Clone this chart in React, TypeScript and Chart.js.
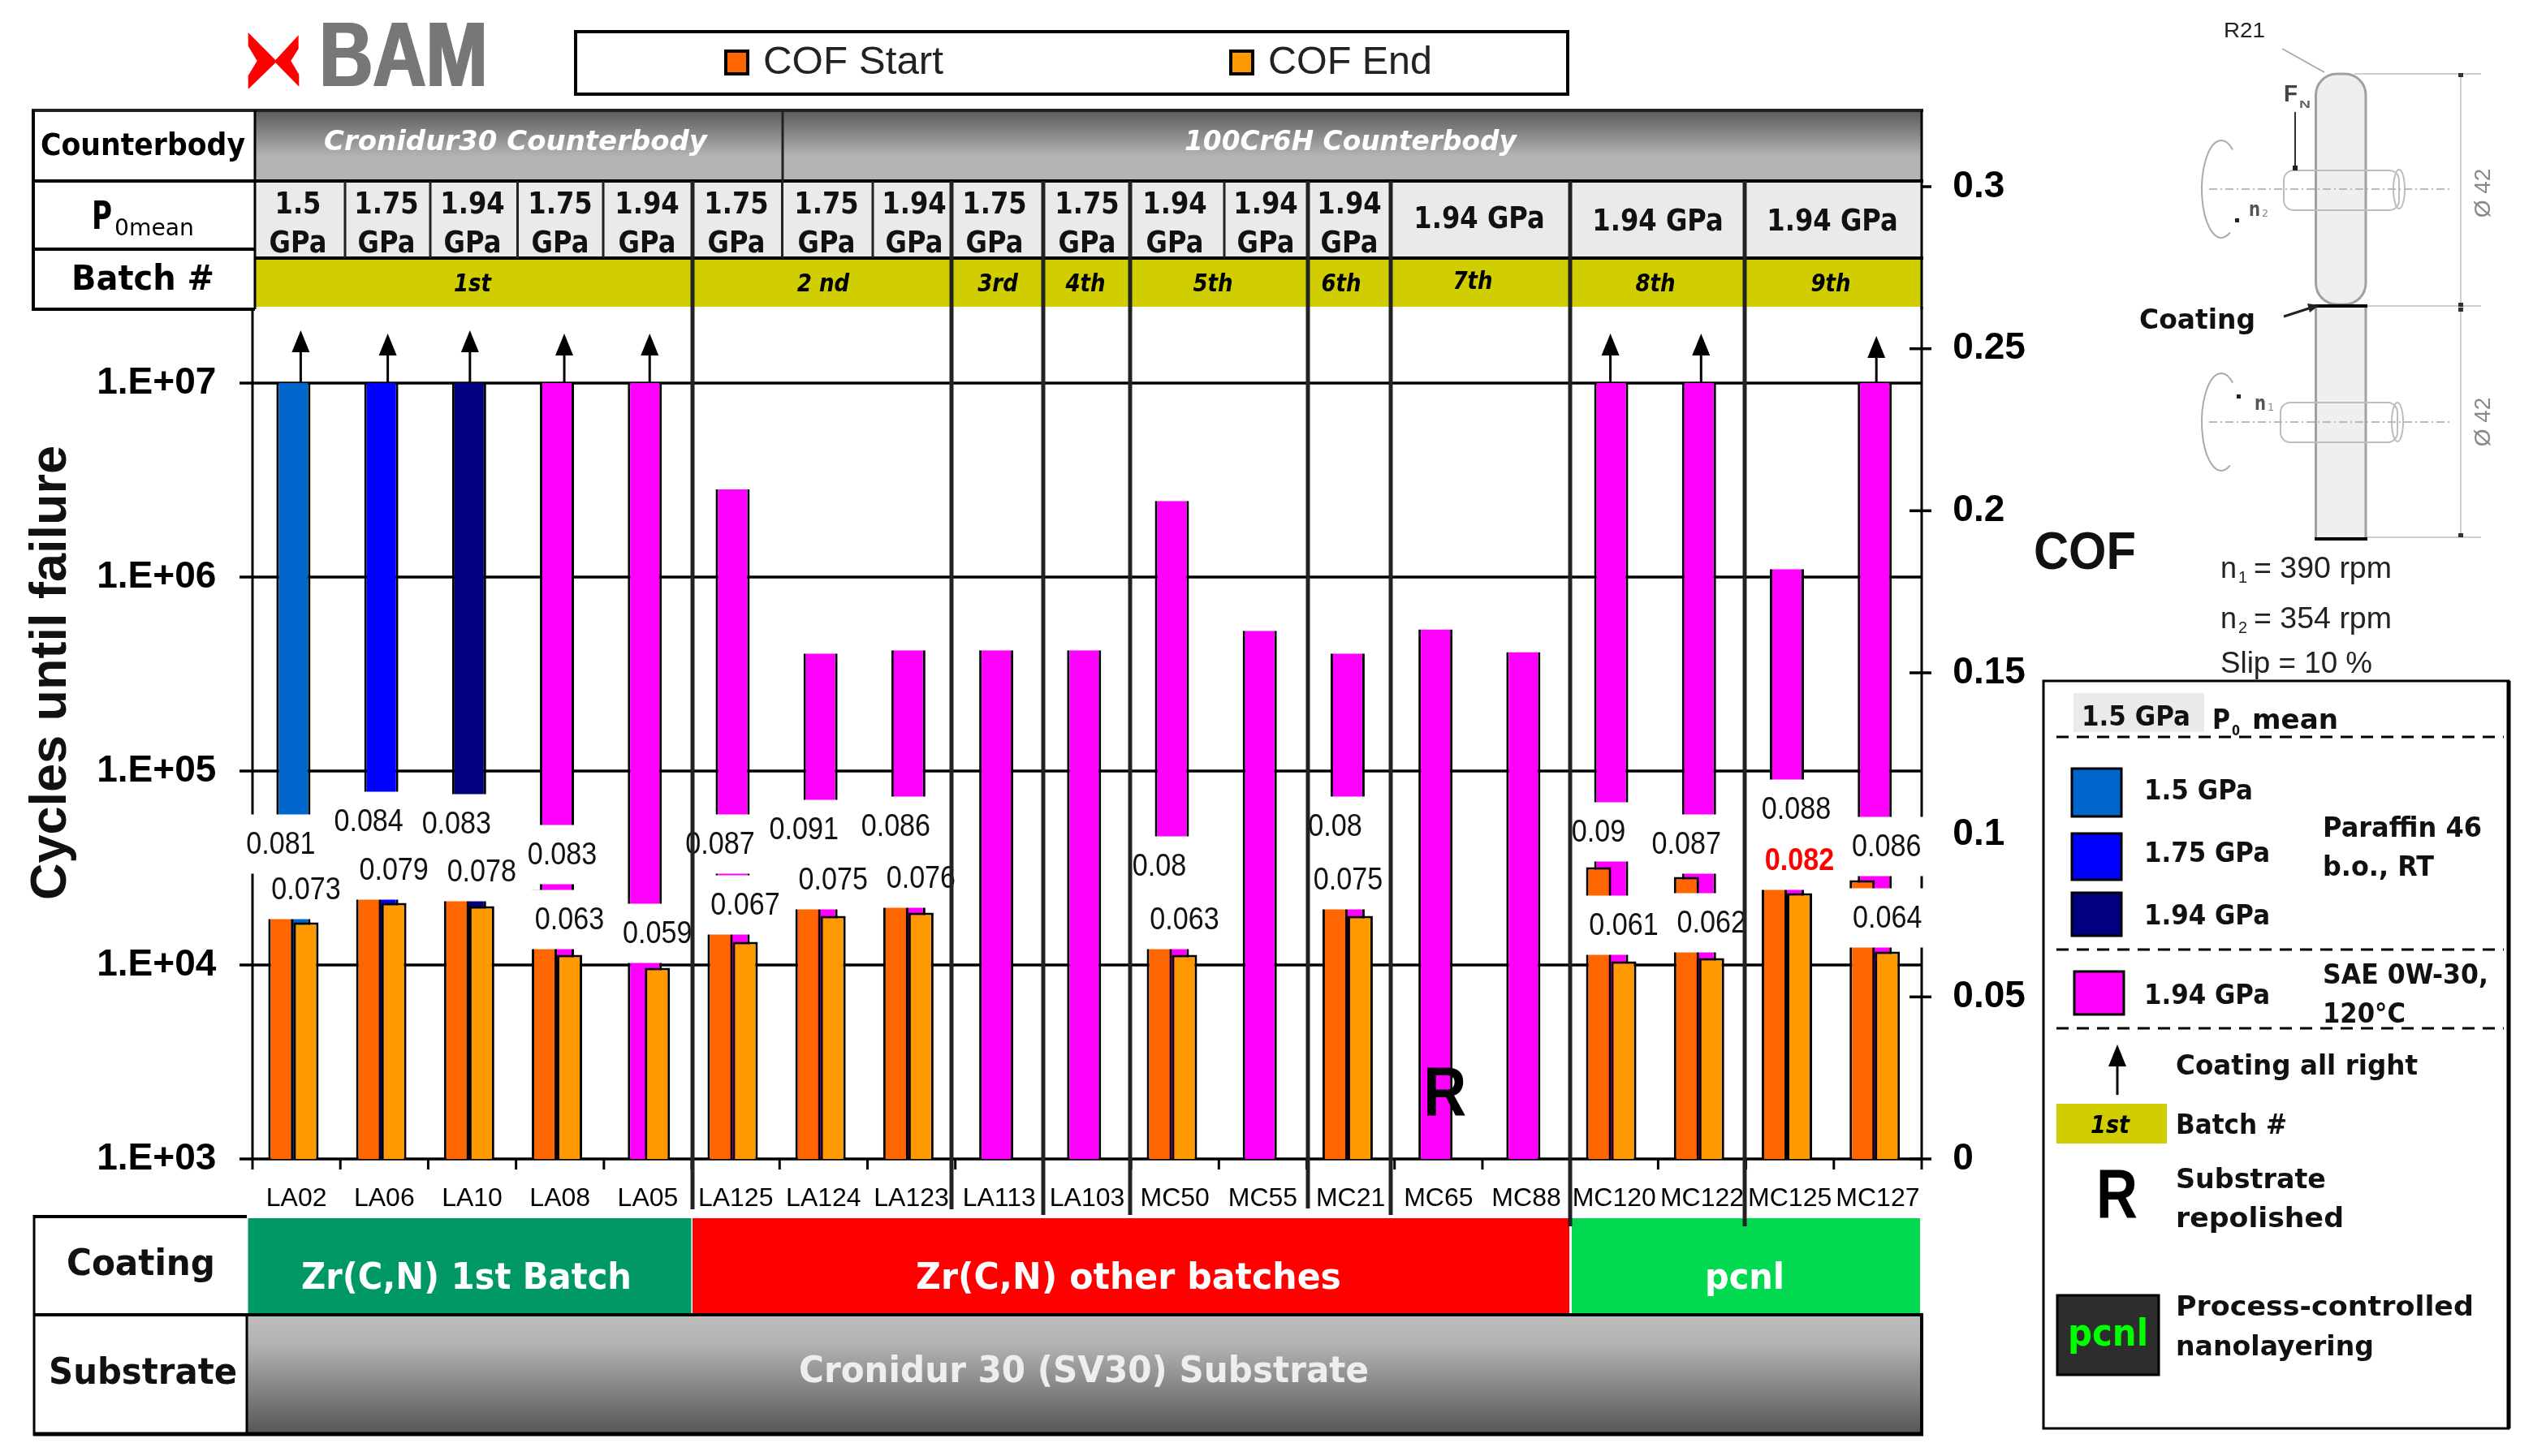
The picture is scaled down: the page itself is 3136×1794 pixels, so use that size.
import { useEffect, useRef } from "react";
import { Chart, registerables } from "chart.js";

Chart.register(...registerables);

// chart data
const sampleNames = ["LA02", "LA06", "LA10", "LA08", "LA05", "LA125", "LA124", "LA123", "LA113", "LA103", "MC50", "MC55", "MC21", "MC65", "MC88", "MC120", "MC122", "MC125", "MC127"];
const cyclesToFailure = [1e7, 1e7, 1e7, 1e7, 1e7, 2.83e6, 4.03e5, 4.19e5, 4.19e5, 4.19e5, 2.47e6, 5.28e5, 4.03e5, 5.38e5, 4.1e5, 1e7, 1e7, 1.1e6, 1e7];
const cofStart = [0.081, 0.084, 0.083, 0.083, null, 0.087, 0.091, 0.086, null, null, 0.08, null, 0.08, null, null, 0.09, 0.087, 0.088, 0.086];
const cofEnd = [0.073, 0.079, 0.078, 0.063, 0.059, 0.067, 0.075, 0.076, null, null, 0.063, null, 0.075, null, null, 0.061, 0.062, 0.082, 0.064];
const loadGroup = ["1.5", "1.75", "1.94p", "sae", "sae", "sae", "sae", "sae", "sae", "sae", "sae", "sae", "sae", "sae", "sae", "sae", "sae", "sae", "sae"];
const cycleTicks = [1e3, 1e4, 1e5, 1e6, 1e7];
const cofTicks = [0, 0.05, 0.1, 0.15, 0.2, 0.25, 0.3];
const CYCLE_MAX = 1.03e8;

const loadColors: Record<string, string> = { "1.5": "#0066CC", "1.75": "#0000FF", "1.94p": "#000080", sae: "#FF00FF" };

// hand placed things from the original slide
const startLabelY = [1040, 1012, 1015, 1053, 0, 1040, 1022, 1018, 0, 0, 1067, 0, 1018, 0, 0, 1025, 1040, 997, 1043];
const endLabelY = [1096, 1072, 1074, 1133, 1150, 1115, 1084, 1082, 0, 0, 1133, 0, 1084, 0, 0, 1140, 1137, 1060, 1131];
const startLabelNudge = [0, 0, 0, 22, 0, 0, -5, 0, 0, 0, 0, 0, 0, 0, 0, 0, 0, 27, 30];
const endLabelNudge = [0, 0, 0, 0, 0, 0, 0, 0, 0, 0, 0, 0, -15, 0, 0, 0, 0, 0, 0];
const arrowNudge = [9, 8, 1, 9, 6, 0, 0, 0, 0, 0, 0, 0, 0, 0, 0, -1, 2.5, 0, 2];
const arrowTip = [407, 411, 407, 411, 411, 0, 0, 0, 0, 0, 0, 0, 0, 0, 0, 411, 411, 0, 414];

const pressureCells: [string, number][] = [["1.5", 367], ["1.75", 476], ["1.94", 582], ["1.75", 690], ["1.94", 797], ["1.75", 907], ["1.75", 1018], ["1.94", 1126], ["1.75", 1225], ["1.75", 1339], ["1.94", 1447], ["1.94", 1559], ["1.94", 1662]];
const wideCells: [number, number][] = [[1822, 268], [2042, 271], [2257, 271]];
const batchLabels: [string, number, number][] = [["1st", 582, 348], ["2 nd", 1014, 348], ["3rd", 1229, 348], ["4th", 1337, 348], ["5th", 1494, 348], ["6th", 1652, 348], ["7th", 1814, 345], ["8th", 2039, 348], ["9th", 2255, 348]];
const thinDividers = [425, 530, 637.5, 743, 963.5, 1075, 1508];
const batchLines: [number, number][] = [[853, 1490], [1172, 1490], [1285, 1497], [1392, 1497], [1611, 1489], [1713, 1497], [1934, 1511], [2149, 1511]];

const DJ = '"DejaVu Sans"';
const LS = '"Liberation Sans"';
const SX = 0.875;
const TEXT_DROP = 3;

type Ctx = CanvasRenderingContext2D;

// text squeezed to fit between x0 and x1, like the stretched slide
const fit = (ctx: Ctx, text: string, x0: number, x1: number, cy: number, font: string, color = "#000") => {
	ctx.save();
	ctx.font = font;
	const w = ctx.measureText(text).width;
	ctx.translate(x0, cy + TEXT_DROP);
	ctx.scale((x1 - x0) / w, 1);
	ctx.textAlign = "left";
	ctx.textBaseline = "middle";
	ctx.fillStyle = color;
	ctx.fillText(text, 0, 0);
	ctx.restore();
};

const centered = (ctx: Ctx, text: string, cx: number, cy: number, font: string, color = "#000", sx = SX) => {
	ctx.save();
	ctx.font = font;
	ctx.translate(cx, cy + TEXT_DROP);
	ctx.scale(sx, 1);
	ctx.textAlign = "center";
	ctx.textBaseline = "middle";
	ctx.fillStyle = color;
	ctx.fillText(text, 0, 0);
	ctx.restore();
};

const line = (ctx: Ctx, x0: number, y0: number, x1: number, y1: number, width = 3, color = "#000", dash: number[] = []) => {
	ctx.save();
	ctx.strokeStyle = color;
	ctx.lineWidth = width;
	ctx.setLineDash(dash);
	ctx.beginPath();
	ctx.moveTo(x0, y0);
	ctx.lineTo(x1, y1);
	ctx.stroke();
	ctx.restore();
};

const swatch = (ctx: Ctx, x0: number, y0: number, x1: number, y1: number, fill: string, border = 3) => {
	ctx.fillStyle = fill;
	ctx.fillRect(x0, y0, x1 - x0, y1 - y0);
	ctx.strokeStyle = "#000";
	ctx.lineWidth = border;
	ctx.strokeRect(x0, y0, x1 - x0, y1 - y0);
};

const upArrow = (ctx: Ctx, x: number, tip: number, bottom: number) => {
	line(ctx, x, tip + 20, x, bottom, 3);
	ctx.fillStyle = "#000";
	ctx.beginPath();
	ctx.moveTo(x, tip);
	ctx.lineTo(x + 11, tip + 27);
	ctx.lineTo(x - 11, tip + 27);
	ctx.closePath();
	ctx.fill();
};

const drawLogo = (ctx: Ctx) => {
	const pts = [[47, 60], [148, 162], [233, 70], [233, 120], [205, 165], [235, 215], [235, 260], [148, 172], [47, 270], [47, 220], [80, 165], [47, 110]];
	ctx.fillStyle = "#FF0000";
	ctx.beginPath();
	pts.forEach(([x, y], i) => (i ? ctx.lineTo(290 + x / 3, 20 + y / 3) : ctx.moveTo(290 + x / 3, 20 + y / 3)));
	ctx.closePath();
	ctx.fill();
	fit(ctx, "BAM", 392, 599, 72, `bold 113px ${LS}`, "#777777");
	fit(ctx, "BAM", 395, 602, 72, `bold 113px ${LS}`, "#777777");
};

const drawLegend = (ctx: Ctx) => {
	ctx.strokeStyle = "#000";
	ctx.lineWidth = 4;
	ctx.strokeRect(709, 39, 1222, 77);
	swatch(ctx, 894, 63, 921, 91, "#FF6600", 4);
	fit(ctx, "COF Start", 940, 1162, 75, `48px ${LS}`, "#222");
	swatch(ctx, 1516, 63, 1543, 91, "#FF9900", 4);
	fit(ctx, "COF End", 1562, 1764, 75, `48px ${LS}`, "#222");
};

const drawHeader = (ctx: Ctx) => {
	const g = ctx.createLinearGradient(0, 137, 0, 223);
	g.addColorStop(0, "#5c5c5c");
	g.addColorStop(0.65, "#b4b4b4");
	g.addColorStop(1, "#b4b4b4");
	ctx.fillStyle = g;
	ctx.fillRect(314, 137, 2053, 86);
	ctx.fillStyle = "#EAEAEA";
	ctx.fillRect(314, 223, 2053, 95);
	ctx.fillStyle = "#D0CE00";
	ctx.fillRect(314, 320, 2053, 58);
	line(ctx, 39, 136, 2369, 136, 4, "#222");
	line(ctx, 41, 223, 2369, 223, 4);
	line(ctx, 41, 307, 314, 307, 4);
	line(ctx, 314, 318, 2369, 318, 4);
	line(ctx, 41, 381, 314, 381, 4);
	line(ctx, 41, 136, 41, 383, 4);
	line(ctx, 314, 136, 314, 381, 3);
	line(ctx, 2367, 136, 2367, 381, 3);
	line(ctx, 964, 136, 964, 223, 3, "#222");
	thinDividers.forEach((x) => line(ctx, x, 223, x, 318, 3, "#222"));

	fit(ctx, "Counterbody", 50, 302, 178, `bold 37px ${DJ}`);
	fit(ctx, "P", 113, 138, 267, `bold 48px ${DJ}`);
	fit(ctx, "0mean", 141, 239, 280, `28px ${DJ}`);
	fit(ctx, "Batch #", 88, 264, 343, `bold 42px ${DJ}`);
	fit(ctx, "Cronidur30 Counterbody", 399, 871, 173, `italic bold 33px ${DJ}`, "#fff");
	fit(ctx, "100Cr6H Counterbody", 1459, 1868, 173, `italic bold 33px ${DJ}`, "#fff");
	pressureCells.forEach(([p, x]) => {
		centered(ctx, p, x, 250, `bold 37px ${DJ}`, "#111", 0.87);
		centered(ctx, "GPa", x, 298, `bold 37px ${DJ}`, "#111", 0.87);
	});
	wideCells.forEach(([x, y]) => centered(ctx, "1.94 GPa", x, y, `bold 37px ${DJ}`, "#111", 0.87));
	batchLabels.forEach(([t, x, y]) => centered(ctx, t, x, y, `italic bold 30px ${DJ}`, "#000", 0.87));
};

const drawFooter = (ctx: Ctx) => {
	ctx.fillStyle = "#009966";
	ctx.fillRect(305.5, 1501, 546, 117);
	ctx.fillStyle = "#FF0000";
	ctx.fillRect(853, 1501, 1080, 117);
	ctx.fillStyle = "#00D950";
	ctx.fillRect(1936, 1501, 429, 117);
	const g = ctx.createLinearGradient(0, 1620, 0, 1767);
	g.addColorStop(0, "#bebebe");
	g.addColorStop(0.25, "#b2b2b2");
	g.addColorStop(1, "#565656");
	ctx.fillStyle = g;
	ctx.fillRect(304, 1620, 2063, 147);
	line(ctx, 41, 1499, 304, 1499, 4);
	line(ctx, 41, 1620, 2369, 1620, 4);
	line(ctx, 41, 1767, 2369, 1767, 5);
	line(ctx, 42, 1497, 42, 1769, 3);
	line(ctx, 304, 1620, 304, 1767, 3);
	line(ctx, 2367, 1620, 2367, 1769, 4);
	fit(ctx, "Coating", 82, 265, 1556, `bold 45px ${DJ}`, "#111");
	fit(ctx, "Substrate", 60, 292, 1690, `bold 45px ${DJ}`, "#111");
	fit(ctx, "Zr(C,N) 1st Batch", 371, 778, 1573, `bold 45px ${DJ}`, "#fff");
	fit(ctx, "Zr(C,N) other batches", 1128, 1652, 1573, `bold 45px ${DJ}`, "#fff");
	fit(ctx, "pcnl", 2100, 2198, 1573, `bold 45px ${DJ}`, "#fff");
	fit(ctx, "Cronidur 30 (SV30) Substrate", 984, 1686, 1688, `bold 45px ${DJ}`, "#eee");
};

const drawDiagram = (ctx: Ctx) => {
	const grey = "#a0a0a0";
	const dim = "#cfcfcf";
	fit(ctx, "R21", 2739, 2790, 36, `26px ${LS}`, "#222");
	line(ctx, 2811, 60, 2863, 89, 2, "#aaa");
	[3056].forEach((x) => {
		line(ctx, 2900, 91, x, 91, 2, dim);
		line(ctx, 2914, 377, x, 377, 2, dim);
		line(ctx, 2914, 662, x, 662, 2, dim);
	});
	line(ctx, 3031, 92, 3031, 661, 2, dim);
	[92, 375, 381, 659].forEach((y) => {
		ctx.fillStyle = "#333";
		ctx.fillRect(3028, y - 2, 6, 5);
	});
	ctx.fillStyle = "#EFEFEF";
	ctx.strokeStyle = grey;
	ctx.lineWidth = 3;
	ctx.beginPath();
	ctx.roundRect(2852.5, 91, 61.5, 284, 26);
	ctx.fill();
	ctx.stroke();
	ctx.fillRect(2852.5, 377, 61.5, 287);
	ctx.strokeRect(2852.5, 377, 61.5, 287);
	line(ctx, 2851, 377, 2916, 377, 4);
	line(ctx, 2851, 664, 2916, 664, 4);
	// shafts and rotation arcs
	[[2813, 210, 2955, 233, 2736, 257, "n", "2", 2770, 2755, 271], [2809, 496, 2953, 520, 2736, 496, "n", "1", 2777, 2757, 488]].forEach((s: any) => {
		const [x0, top, x1, axis, ax, ny, n, sub, nx, dx, dy] = s;
		ctx.strokeStyle = "#bdbdbd";
		ctx.lineWidth = 2;
		ctx.beginPath();
		ctx.roundRect(x0, top, x1 - x0, 49, 12);
		ctx.stroke();
		ctx.beginPath();
		ctx.ellipse(x1, axis, 7, 24, 0, 0, Math.PI * 2);
		ctx.stroke();
		line(ctx, 2721, axis, 3019, axis, 2, "#bbb", [10, 4, 2, 4]);
		ctx.strokeStyle = "#aaa";
		ctx.beginPath();
		ctx.ellipse(ax, axis, 24, 60, 0, -Math.PI * 0.3, Math.PI * 0.35, true);
		ctx.stroke();
		fit(ctx, n, nx, nx + 14, ny, `bold 24px ${DJ}`, "#555");
		fit(ctx, sub, nx + 16, nx + 24, ny + 4, `12px ${DJ}`, "#888");
		ctx.fillStyle = "#222";
		ctx.fillRect(dx - 2, dy - 2, 5, 5);
	});
	fit(ctx, "F", 2813, 2830, 114, `bold 30px ${LS}`, "#444");
	fit(ctx, "N", 2832, 2846, 126, `bold 13px ${LS}`, "#666");
	line(ctx, 2827, 138, 2827, 206, 2, "#333");
	ctx.fillStyle = "#222";
	ctx.fillRect(2824, 204, 6, 6);
	fit(ctx, "Coating", 2635, 2778, 393, `bold 33px ${DJ}`, "#111");
	line(ctx, 2813, 390, 2850, 378, 3, "#222");
	ctx.beginPath();
	ctx.moveTo(2857, 376);
	ctx.lineTo(2842, 374);
	ctx.lineTo(2845, 385);
	ctx.closePath();
	ctx.fill();
	["Ø 42", "Ø 42"].forEach((t, i) => {
		ctx.save();
		ctx.translate(3056, i ? 520 : 238);
		ctx.rotate(-Math.PI / 2);
		centered(ctx, t, 0, 0, `28px ${LS}`, "#888", 1);
		ctx.restore();
	});
	// speeds
	fit(ctx, "n", 2735, 2755, 699, `36px ${LS}`, "#222");
	fit(ctx, "1", 2757, 2768, 709, `20px ${LS}`, "#222");
	fit(ctx, "= 390 rpm", 2776, 2946, 699, `36px ${LS}`, "#222");
	fit(ctx, "n", 2735, 2755, 761, `36px ${LS}`, "#222");
	fit(ctx, "2", 2757, 2768, 771, `20px ${LS}`, "#222");
	fit(ctx, "= 354 rpm", 2776, 2946, 761, `36px ${LS}`, "#222");
	fit(ctx, "Slip = 10 %", 2735, 2922, 816, `36px ${LS}`, "#222");
	fit(ctx, "COF", 2505, 2631, 680, `bold 64px ${LS}`, "#111");
};

const drawKey = (ctx: Ctx) => {
	const b = `bold 33px ${DJ}`;
	ctx.strokeStyle = "#000";
	ctx.lineWidth = 3;
	ctx.strokeRect(2517, 839, 573, 921);
	line(ctx, 3090, 839, 3090, 1760, 5);
	ctx.fillStyle = "#EAEAEA";
	ctx.fillRect(2554, 854, 161, 48);
	fit(ctx, "1.5 GPa", 2564, 2698, 882, b, "#111");
	fit(ctx, "P", 2725, 2747, 886, b, "#111");
	fit(ctx, "0", 2749, 2759, 899, `bold 17px ${DJ}`, "#111");
	fit(ctx, "mean", 2774, 2880, 886, b, "#111");
	[908, 1170, 1267].forEach((y) => line(ctx, 2533, y, 3084, y, 3, "#000", [15, 10]));
	swatch(ctx, 2552, 947, 2613, 1006, loadColors["1.5"]);
	swatch(ctx, 2552, 1027, 2613, 1084, loadColors["1.75"]);
	swatch(ctx, 2552, 1100, 2613, 1153, loadColors["1.94p"]);
	swatch(ctx, 2555, 1197, 2616, 1250, loadColors.sae);
	fit(ctx, "1.5 GPa", 2641, 2775, 973, b, "#111");
	fit(ctx, "1.75 GPa", 2641, 2796, 1050, b, "#111");
	fit(ctx, "1.94 GPa", 2641, 2796, 1127, b, "#111");
	fit(ctx, "1.94 GPa", 2641, 2796, 1225, b, "#111");
	fit(ctx, "Paraffin 46", 2861, 3057, 1019, b, "#111");
	fit(ctx, "b.o., RT", 2861, 2998, 1067, b, "#111");
	fit(ctx, "SAE 0W-30,", 2861, 3065, 1200, b, "#111");
	fit(ctx, "120°C", 2861, 2963, 1248, b, "#111");
	upArrow(ctx, 2608, 1287, 1349);
	fit(ctx, "Coating all right", 2680, 2978, 1312, b, "#111");
	ctx.fillStyle = "#D0CE00";
	ctx.fillRect(2533, 1360, 136, 49);
	fit(ctx, "1st", 2575, 2623, 1385, `italic bold 30px ${DJ}`);
	fit(ctx, "Batch #", 2680, 2817, 1385, b, "#111");
	fit(ctx, "R", 2582, 2633, 1473, `bold 86px ${LS}`);
	fit(ctx, "Substrate", 2680, 2865, 1452, b, "#111");
	fit(ctx, "repolished", 2680, 2887, 1500, b, "#111");
	swatch(ctx, 2534, 1596, 2659, 1694, "#2D2D2D");
	fit(ctx, "pcnl", 2547, 2646, 1643, `bold 46px ${DJ}`, "#00FF00");
	fit(ctx, "Process-controlled", 2680, 3047, 1609, b, "#111");
	fit(ctx, "nanolayering", 2680, 2924, 1658, b, "#111");
};

const slideParts = {
	id: "slideParts",
	// axis lines go under the bars
	beforeDatasetsDraw(chart: any) {
		const ctx: Ctx = chart.ctx;
		const { x, y, y2 } = chart.scales;
		const shift = 3.7;
		cycleTicks.forEach((v) => {
			const py = y.getPixelForValue(v);
			line(ctx, 295, py, 2367, py, 3.5);
		});
		line(ctx, 311, 381, 311, y.bottom, 3);
		line(ctx, 2367, 378, 2367, y.bottom, 3);
		const step = (x.right - x.left) / sampleNames.length;
		for (let i = 0; i <= sampleNames.length; i++) {
			const tx = x.left + shift + i * step;
			line(ctx, tx, y.bottom, tx, y.bottom + 13, 3);
		}
		cofTicks.forEach((v) => {
			const py = y2.getPixelForValue(v);
			line(ctx, 2352, py, 2379, py, 3.5);
		});
	},
	afterDatasetsDraw(chart: any) {
		const ctx: Ctx = chart.ctx;
		const { x, y } = chart.scales;
		const starts = chart.getDatasetMeta(1).data;
		const ends = chart.getDatasetMeta(2).data;
		const font = `39px ${LS}`;
		const valueLabel = (v: number, cx: number, cy: number, color = "#111", f = font) => {
			ctx.fillStyle = "#fff";
			ctx.fillRect(cx - 56, cy - 36.5, 112, 73);
			centered(ctx, String(v), cx, cy - TEXT_DROP + 1, f, color);
		};
		sampleNames.forEach((_, i) => {
			const s = cofStart[i];
			const e = cofEnd[i];
			if (s !== null) valueLabel(s, starts[i].x + startLabelNudge[i], startLabelY[i]);
			if (e !== null) {
				if (sampleNames[i] === "MC125") valueLabel(e, ends[i].x + endLabelNudge[i], endLabelY[i], "#FF0000", `bold 39px ${LS}`);
				else valueLabel(e, ends[i].x + endLabelNudge[i], endLabelY[i]);
			}
			if (cyclesToFailure[i] >= 1e7) upArrow(ctx, x.getPixelForValue(i) + arrowNudge[i], arrowTip[i], y.getPixelForValue(1e7));
		});
		const mc65 = x.getPixelForValue(sampleNames.indexOf("MC65"));
		fit(ctx, "R", mc65 - 15, mc65 + 38, 1347, `bold 86px ${LS}`);

		drawHeader(ctx);
		drawFooter(ctx);
		batchLines.forEach(([lx, end]) => line(ctx, lx, 223, lx, end, 5, "#222"));
		drawLogo(ctx);
		drawLegend(ctx);
		drawDiagram(ctx);
		drawKey(ctx);
	},
};

export default function App() {
	const canvasRef = useRef<HTMLCanvasElement | null>(null);

	useEffect(() => {
		document.body.style.margin = "0";
		if (!canvasRef.current) return;
		const tickFont = { family: "Liberation Sans", size: 46, weight: "bold" as const };
		const chart = new Chart(canvasRef.current, {
			type: "bar",
			data: {
				labels: sampleNames,
				datasets: [
					{
						label: "Cycles until failure",
						data: cyclesToFailure,
						yAxisID: "y",
						grouped: false,
						order: 2,
						backgroundColor: loadGroup.map((g) => loadColors[g]),
						borderColor: "#000",
						borderWidth: { top: 0, left: 3, right: 3, bottom: 0 },
						categoryPercentage: 1,
						barPercentage: 42 / 108.2,
					},
					{
						label: "COF Start",
						data: cofStart,
						yAxisID: "y2",
						order: 1,
						backgroundColor: "#FF6600",
						borderColor: "#000",
						borderWidth: 3,
						categoryPercentage: 62 / 108.2,
						barPercentage: 1,
					},
					{
						label: "COF End",
						data: cofEnd,
						yAxisID: "y2",
						order: 1,
						backgroundColor: "#FF9900",
						borderColor: "#000",
						borderWidth: 3,
						categoryPercentage: 62 / 108.2,
						barPercentage: 1,
					},
				] as any,
			},
			options: {
				indexAxis: "x",
				animation: false,
				responsive: false,
				devicePixelRatio: 1,
				layout: { padding: { left: 0, top: 230, bottom: 306, right: 572.7 } },
				plugins: { legend: { display: false }, tooltip: { enabled: false } },
				scales: {
					x: {
						grid: { display: false },
						border: { display: false },
						ticks: {
							color: "#000",
							font: { family: "Liberation Sans", size: 32 },
							autoSkip: false,
							maxRotation: 0,
							minRotation: 0,
							labelOffset: 3.7,
							padding: 22,
						},
						afterFit: (s: any) => {
							s.height = 60;
						},
					},
					y: {
						type: "logarithmic",
						position: "left",
						min: 1e3,
						max: CYCLE_MAX,
						bounds: "data",
						grid: { display: false },
						border: { display: false },
						title: {
							display: true,
							text: "Cycles until failure",
							color: "#111",
							font: { family: "Liberation Sans", size: 63, weight: "bold" },
							padding: { top: 26, bottom: 0 },
						},
						ticks: {
							color: "#000",
							font: tickFont,
							padding: 33,
							autoSkip: false,
							callback: (v: any) => `1.E+0${Math.round(Math.log10(v))}`,
						},
						afterBuildTicks: (s: any) => {
							s.ticks = cycleTicks.map((value) => ({ value }));
						},
						afterFit: (s: any) => {
							s.width = 307.3;
						},
					},
					y2: {
						type: "linear",
						position: "right",
						min: 0,
						max: 0.3,
						bounds: "data",
						grid: { display: false },
						border: { display: false },
						ticks: {
							color: "#000",
							font: tickFont,
							padding: 34,
							autoSkip: false,
							callback: (v: any) => String(v),
						},
						afterBuildTicks: (s: any) => {
							s.ticks = cofTicks.map((value) => ({ value }));
						},
						afterFit: (s: any) => {
							s.width = 200;
						},
					},
				},
			} as any,
			plugins: [slideParts],
		});
		return () => chart.destroy();
	}, []);

	return <canvas ref={canvasRef} width={3136} height={1794} style={{ display: "block", width: 3136, height: 1794 }} />;
}
